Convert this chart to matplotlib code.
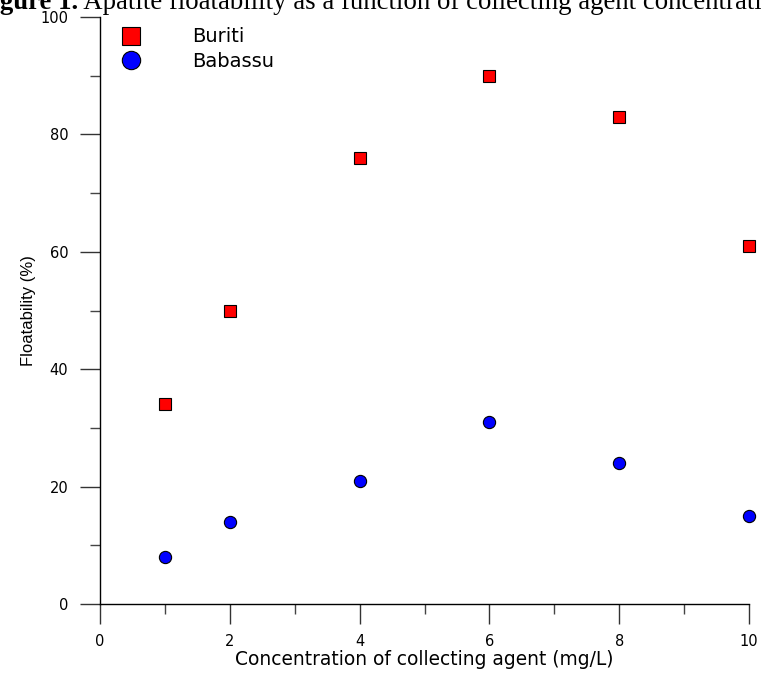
import matplotlib
matplotlib.use("Agg")
import matplotlib.pyplot as plt
from matplotlib.ticker import MultipleLocator

concentration = [1, 2, 4, 6, 8, 10]
buriti = [34, 50, 76, 90, 83, 61]
babassu = [8, 14, 21, 31, 24, 15]
x_ticks = [0, 2, 4, 6, 8, 10]
y_ticks = [0, 20, 40, 60, 80, 100]

W, H = 761, 673
fig = plt.figure(figsize=(W / 100, H / 100), dpi=100)
plt.rcParams['font.family'] = ['DejaVu Sans']

AX_L, AX_R, AX_T, AX_B = 100, 749, 17, 604
ax = fig.add_axes([AX_L / W, (H - AX_B) / H, (AX_R - AX_L) / W, (AX_B - AX_T) / H])
ax.set_xlim(0, 10)
ax.set_ylim(0, 100)

ax.plot(concentration, buriti, linestyle='none', marker='s', markersize=8.4,
        markerfacecolor='#ff0000', markeredgecolor='black', markeredgewidth=0.8,
        label='Buriti', clip_on=False)
ax.plot(concentration, babassu, linestyle='none', marker='o', markersize=8.8,
        markerfacecolor='#0000ff', markeredgecolor='black', markeredgewidth=0.8,
        label='Babassu', clip_on=False)

for s in ['top', 'right']:
    ax.spines[s].set_visible(False)
for s in ['left', 'bottom']:
    ax.spines[s].set_linewidth(1.0)
    ax.spines[s].set_color('black')

ax.set_xticks(x_ticks)
ax.set_yticks(y_ticks)
ax.xaxis.set_minor_locator(MultipleLocator(1))
ax.yaxis.set_minor_locator(MultipleLocator(10))
ax.tick_params(which='major', direction='out', length=14.4, width=1.0, color='#333333',
               labelsize=10.5, labelcolor='black')
ax.tick_params(which='minor', direction='out', length=7.2, width=1.0, color='#444444')
ax.tick_params(axis='x', which='major', pad=7)
ax.tick_params(axis='y', which='major', pad=8.5)

ax.set_xlabel('Concentration of collecting agent (mg/L)', fontsize=13.4, labelpad=1)
ax.set_ylabel('Floatability (%)', fontsize=12, labelpad=3,
              family=['Liberation Sans', 'DejaVu Sans'])

leg_fs = 14
fs_px = leg_fs * 100 / 72
hl = 1.2
x0_px = 131 - hl * fs_px / 2
leg = ax.legend(loc='upper left',
                bbox_to_anchor=((x0_px - AX_L) / (AX_R - AX_L), (AX_B - 27.5) / (AX_B - AX_T)),
                frameon=False, fontsize=leg_fs, markerscale=1.5, handlelength=hl,
                handletextpad=(192 - (x0_px + hl * fs_px)) / fs_px,
                labelspacing=0.27, borderaxespad=0, borderpad=0)

# Cropped caption at the top
fig.canvas.draw()
r = fig.canvas.get_renderer()
serif = ['Liberation Serif', 'DejaVu Serif']
cap_fs = 19.3
y_base = 1 - 9 / H
probe = fig.text(0, 0, 'Fi', fontsize=cap_fs, fontweight='bold', family=serif)
w_fi = probe.get_window_extent(renderer=r).width
probe.remove()
t1 = fig.text(-w_fi / W, y_base, 'Figure 1.', fontsize=cap_fs, fontweight='bold',
              family=serif, va='baseline', ha='left')
bb = t1.get_window_extent(renderer=r)
fig.text(bb.x1 / W, y_base, ' Apatite floatability as a function of collecting agent concentration',
         fontsize=cap_fs, family=serif, va='baseline', ha='left')

fig.savefig('out.png', dpi=100)
